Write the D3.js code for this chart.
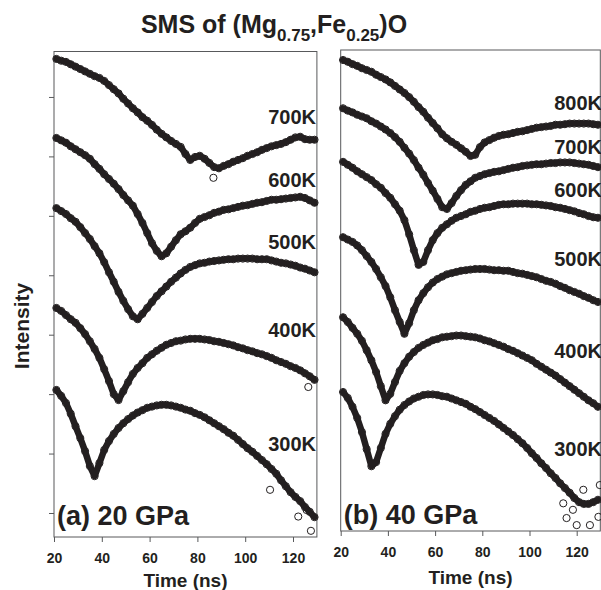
<!DOCTYPE html>
<html><head><meta charset="utf-8">
<script src="https://cdn.jsdelivr.net/npm/d3@7"></script>
<style>
body{margin:0;background:#fff}
text{font-family:"Liberation Sans",Arial,Helvetica,sans-serif;font-weight:bold;fill:#231f20}
</style></head>
<body><svg id="c" width="601" height="590"></svg>
<script>
// ---------- DATA ----------
const times = [21,23,25,27,29,31,33,35,37,39,41,43,45,47,49,51,53,55,57,59,61,63,65,67,69,71,73,75,77,79,81,83,85,87,89,91,93,95,97,99,101,103,105,107,109,111,113,115,117,119,121,123,125,127,129];
const xTicks = [20,40,60,80,100,120];
const yTicksA = [1,2,3,4,5,6,7,8];

const tempsA = ["700K","600K","500K","400K","300K"];
const a700 = [8.64,8.61,8.59,8.55,8.51,8.47,8.43,8.39,8.35,8.32,8.27,8.20,8.13,8.06,7.97,7.89,7.81,7.74,7.66,7.60,7.53,7.45,7.38,7.32,7.26,7.21,7.16,7.04,6.94,6.99,7.01,6.96,6.89,6.82,6.80,6.84,6.87,6.91,6.94,6.97,7.01,7.04,7.07,7.11,7.14,7.17,7.19,7.21,7.24,7.28,7.32,7.33,7.29,7.28,7.28];
const a600 = [7.31,7.27,7.23,7.17,7.12,7.07,7.02,6.96,6.87,6.79,6.70,6.62,6.54,6.45,6.35,6.26,6.17,6.03,5.88,5.71,5.54,5.41,5.32,5.37,5.48,5.59,5.69,5.74,5.80,5.88,5.95,5.98,6.01,6.05,6.07,6.10,6.11,6.13,6.15,6.17,6.18,6.20,6.22,6.23,6.25,6.27,6.27,6.28,6.29,6.30,6.31,6.32,6.30,6.26,6.22];
const a500 = [6.13,6.08,6.03,5.96,5.90,5.81,5.71,5.61,5.49,5.37,5.22,5.05,4.89,4.72,4.57,4.43,4.31,4.26,4.35,4.45,4.55,4.65,4.73,4.81,4.89,4.96,5.03,5.09,5.14,5.17,5.20,5.21,5.23,5.24,5.25,5.26,5.27,5.27,5.28,5.28,5.28,5.28,5.27,5.27,5.27,5.25,5.23,5.21,5.20,5.18,5.16,5.13,5.11,5.08,5.05];
const a400 = [4.45,4.40,4.33,4.26,4.20,4.11,4.01,3.89,3.76,3.61,3.42,3.22,3.00,2.90,3.05,3.20,3.34,3.44,3.52,3.61,3.67,3.73,3.78,3.83,3.86,3.89,3.90,3.92,3.93,3.93,3.93,3.92,3.91,3.89,3.88,3.86,3.84,3.82,3.79,3.77,3.74,3.72,3.69,3.67,3.64,3.61,3.57,3.54,3.51,3.47,3.44,3.40,3.35,3.30,3.24];
const a300 = [3.07,2.97,2.85,2.67,2.46,2.26,2.04,1.79,1.62,1.84,2.06,2.21,2.33,2.43,2.51,2.58,2.64,2.69,2.73,2.77,2.79,2.81,2.82,2.82,2.81,2.79,2.77,2.74,2.72,2.68,2.65,2.61,2.56,2.51,2.46,2.41,2.35,2.30,2.23,2.16,2.09,2.03,1.96,1.89,1.82,1.74,1.66,1.55,1.45,1.35,1.27,1.20,1.10,1.02,0.93];
const outlierTimesA = [86.7,126.4,127.5,122.2,125.7,110.4];
const outlierValsA  = [6.64,3.12,0.70,0.94,1.05,1.39];

const tempsB = ["800K","700K","600K","500K","400K","300K"];
const b800 = [8.60,8.57,8.53,8.50,8.46,8.43,8.40,8.35,8.31,8.27,8.22,8.16,8.10,8.04,7.97,7.89,7.80,7.72,7.62,7.53,7.44,7.34,7.27,7.21,7.16,7.10,7.04,6.97,6.99,7.12,7.20,7.24,7.28,7.31,7.33,7.34,7.36,7.38,7.39,7.41,7.43,7.45,7.46,7.47,7.48,7.50,7.50,7.51,7.52,7.52,7.52,7.52,7.52,7.51,7.50];
const b700 = [7.78,7.74,7.71,7.67,7.64,7.61,7.56,7.52,7.47,7.42,7.36,7.29,7.21,7.11,7.01,6.90,6.77,6.65,6.51,6.38,6.24,6.10,6.07,6.17,6.29,6.39,6.48,6.54,6.60,6.63,6.66,6.68,6.70,6.71,6.73,6.75,6.77,6.78,6.80,6.81,6.82,6.83,6.83,6.84,6.85,6.85,6.86,6.86,6.86,6.85,6.84,6.83,6.82,6.80,6.78];
const b600 = [6.87,6.82,6.77,6.71,6.66,6.61,6.56,6.49,6.43,6.34,6.26,6.15,6.04,5.88,5.64,5.37,5.12,5.17,5.37,5.54,5.66,5.75,5.81,5.87,5.92,5.95,5.98,6.02,6.04,6.07,6.09,6.10,6.12,6.14,6.15,6.15,6.16,6.16,6.16,6.16,6.15,6.15,6.14,6.13,6.12,6.10,6.09,6.07,6.05,6.03,6.00,5.98,5.95,5.93,5.92];
const b500 = [5.59,5.55,5.51,5.45,5.37,5.27,5.17,5.05,4.91,4.76,4.57,4.35,4.15,3.95,4.13,4.35,4.52,4.64,4.74,4.82,4.88,4.92,4.96,4.98,5.00,5.02,5.03,5.04,5.05,5.05,5.05,5.04,5.03,5.03,5.02,5.02,5.00,4.98,4.97,4.95,4.93,4.91,4.88,4.85,4.83,4.80,4.76,4.73,4.69,4.66,4.63,4.59,4.56,4.52,4.49];
const b400 = [4.23,4.15,4.05,3.95,3.83,3.67,3.50,3.30,3.06,2.82,2.93,3.13,3.32,3.45,3.56,3.64,3.71,3.76,3.80,3.84,3.86,3.89,3.90,3.91,3.92,3.92,3.91,3.90,3.89,3.87,3.84,3.82,3.79,3.76,3.73,3.69,3.66,3.62,3.58,3.54,3.50,3.44,3.39,3.34,3.29,3.24,3.18,3.12,3.06,3.00,2.94,2.88,2.82,2.77,2.71];
const b300 = [2.96,2.86,2.71,2.52,2.28,1.99,1.70,1.77,2.01,2.25,2.42,2.55,2.66,2.74,2.80,2.85,2.88,2.91,2.92,2.92,2.91,2.89,2.88,2.85,2.82,2.79,2.76,2.71,2.67,2.62,2.57,2.52,2.47,2.41,2.35,2.29,2.23,2.16,2.09,2.01,1.92,1.84,1.75,1.67,1.58,1.50,1.41,1.33,1.25,1.16,1.09,1.06,1.06,1.09,1.13];
const outlierTimesB = [115.7,120.0,125.6,129.2,122.8,129.8,114.3,118.4];
const outlierValsB  = [0.82,0.70,0.70,0.84,1.30,1.38,1.07,0.96];

// ---------- DRAW ----------
const INK = "#231f20", FRAME = "#58595b";
const FONT = '"Liberation Sans", Arial, Helvetica, sans-serif';
const svg = d3.select("#c");

function drawPanel(cfg){
  const x = d3.scaleLinear().domain([20,130]).range([cfg.left, cfg.right]);
  const y = d3.scaleLinear().domain(cfg.yDom).range([cfg.bottom, cfg.top]);
  const g = svg.append("g");

  g.append("rect")
    .attr("x", cfg.left).attr("y", cfg.top)
    .attr("width", cfg.right - cfg.left).attr("height", cfg.bottom - cfg.top)
    .attr("fill", "none").attr("stroke", FRAME).attr("stroke-width", 1);

  const xa = g.append("g").attr("transform", `translate(0,${cfg.bottom})`)
    .call(d3.axisBottom(x).tickValues(xTicks).tickSize(5).tickPadding(cfg.pad).tickFormat(d3.format("d")));
  xa.select(".domain").remove();
  xa.selectAll("line").attr("stroke", FRAME);
  xa.attr("font-family", FONT).attr("font-size", 14);
  xa.selectAll("text").attr("fill", INK).attr("font-weight", "bold");

  if (cfg.yTicks){
    const ya = g.append("g").attr("transform", `translate(${cfg.left},0)`)
      .call(d3.axisLeft(y).tickValues(cfg.yTicks).tickSize(5).tickFormat(""));
    ya.select(".domain").remove();
    ya.selectAll("line").attr("stroke", FRAME);
  }

  const line = d3.line().x(d => x(d[0])).y(d => y(d[1]));
  cfg.series.forEach(vals => {
    const pts = times.map((t, i) => [t, vals[i]]);
    g.append("path").datum(pts).attr("d", line)
      .attr("fill", "none").attr("stroke", INK).attr("stroke-width", 6.5)
      .attr("stroke-linejoin", "round").attr("stroke-linecap", "round");
    g.append("g").selectAll("circle").data(pts).join("circle")
      .attr("cx", d => x(d[0])).attr("cy", d => y(d[1])).attr("r", 3.6)
      .attr("fill", "none").attr("stroke", INK).attr("stroke-width", 1);
  });
  g.append("g").selectAll("circle").data(cfg.outT.map((t,i)=>[t,cfg.outV[i]])).join("circle")
    .attr("cx", d => x(d[0])).attr("cy", d => y(d[1])).attr("r", 3.6)
    .attr("fill", "none").attr("stroke", INK).attr("stroke-width", 1);

  cfg.temps.forEach((lab, i) => {
    g.append("text").attr("x", cfg.labelX).attr("y", cfg.labelY[i])
      .attr("text-anchor", "end").attr("font-size", 20).text(lab);
  });
  g.append("text").attr("x", cfg.left + 3).attr("y", cfg.tagY)
    .attr("font-size", 27).text(cfg.tag);
  g.append("text").attr("x", (cfg.left + cfg.right) / 2).attr("y", cfg.titleY)
    .attr("text-anchor", "middle").attr("font-size", 19).text("Time (ns)");
}

drawPanel({
  left: 54, right: 316.9, top: 51.5, bottom: 537, yDom: [0.596, 8.765], pad: 11,
  yTicks: yTicksA, series: [a700, a600, a500, a400, a300],
  outT: outlierTimesA, outV: outlierValsA,
  temps: tempsA, labelX: 316, labelY: [123.5, 187, 249, 337, 450.5],
  tag: "(a) 20 GPa", tagY: 525, titleY: 587
});
drawPanel({
  left: 340.7, right: 600.3, top: 50, bottom: 531, yDom: [0.600, 8.770], pad: 11.5,
  yTicks: null, series: [b800, b700, b600, b500, b400, b300],
  outT: outlierTimesB, outV: outlierValsB,
  temps: tempsB, labelX: 602, labelY: [110, 153.5, 197, 266, 357.5, 456],
  tag: "(b) 40 GPa", tagY: 523.5, titleY: 583.5
});

// title
const title = svg.append("text").attr("x", 274).attr("y", 33)
  .attr("text-anchor", "middle").attr("font-size", 25);
title.append("tspan").text("SMS of (Mg");
title.append("tspan").attr("dy", 8).attr("font-size", 17).text("0.75");
title.append("tspan").attr("dy", -8).text(",Fe");
title.append("tspan").attr("dy", 8).attr("font-size", 17).text("0.25");
title.append("tspan").attr("dy", -8).text(")O");

// y axis title
svg.append("text").attr("transform", "translate(29,326) rotate(-90)")
  .attr("text-anchor", "middle").attr("font-size", 21).text("Intensity");
</script></body></html>
